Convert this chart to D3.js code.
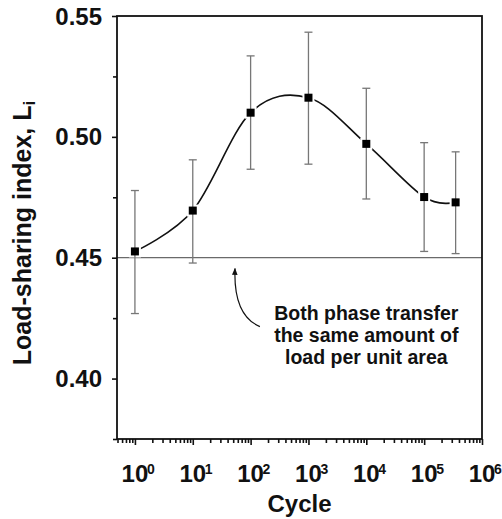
<!DOCTYPE html>
<html>
<head>
<meta charset="utf-8">
<script src="https://cdn.jsdelivr.net/npm/d3@7"></script>
<style>
  html, body { margin: 0; padding: 0; background: #fff; }
  svg { display: block; font-family: "Liberation Sans", Arial, Helvetica, sans-serif; }
</style>
</head>
<body>
<svg id="chart" width="502" height="519"></svg>
<script>
// ---- data ----
const cycles      = [1, 10, 100, 1000, 10000, 100000, 350000];
const loadIndex   = [0.4526, 0.4695, 0.5100, 0.5162, 0.4971, 0.4751, 0.4729];
const errUpper    = [0.4778, 0.4905, 0.5335, 0.5433, 0.5201, 0.4976, 0.4938];
const errLower    = [0.4269, 0.4478, 0.4866, 0.4887, 0.4743, 0.4526, 0.4517];
const yTickValues = [0.375, 0.40, 0.425, 0.45, 0.475, 0.50, 0.525, 0.55];
const yTickLabels = ["0.40", "0.45", "0.50", "0.55"];
const xDecades    = [0, 1, 2, 3, 4, 5, 6];
const referenceLevel = 0.45;
const annotationLines = ["Both phase transfer", "the same amount of", "load per unit area"];
const xTitle = "Cycle";
const yTitle = "Load-sharing index, L";
const yTitleSub = "i";

// ---- layout ----
const plot = { left: 117, right: 482, top: 16, bottom: 439 };
const svg = d3.select("#chart");

const x = d3.scaleLog().domain([0.49, 1e6]).range([plot.left, plot.right]);
const y = d3.scaleLinear().domain([0.375, 0.55]).range([plot.bottom, plot.top]);

// reference horizontal line at 0.45
svg.append("line")
  .attr("x1", plot.left).attr("x2", plot.right)
  .attr("y1", y(referenceLevel)).attr("y2", y(referenceLevel))
  .attr("stroke", "#6a6a6a").attr("stroke-width", 1.2);

// x minor/major ticks
const xMinor = [];
for (let e = -1; e <= 5; e++) for (let k = 2; k <= 9; k++) {
  const v = k * Math.pow(10, e);
  if (v >= 0.49 && v <= 1e6) xMinor.push(v);
}
const xAxisMinor = d3.axisBottom(x).tickValues(xMinor).tickSize(4).tickFormat("");
const xAxisMajor = d3.axisBottom(x).tickValues(xDecades.map(d => Math.pow(10, d))).tickSize(6).tickFormat("");
[xAxisMinor, xAxisMajor].forEach(ax => {
  const g = svg.append("g").attr("transform", `translate(0,${plot.bottom})`).call(ax);
  g.select(".domain").remove();
  g.selectAll("line").attr("stroke", "#111").attr("stroke-width", 1.6);
});

// y ticks
const yMajorVals = yTickValues.filter(v => yTickLabels.includes(v.toFixed(2)));
const yMinorVals = yTickValues.filter(v => !yTickLabels.includes(v.toFixed(2)));
const yAxisMinor = d3.axisLeft(y).tickValues(yMinorVals).tickSize(4).tickFormat("");
const yAxisMajor = d3.axisLeft(y).tickValues(yMajorVals).tickSize(5).tickFormat("");
[yAxisMinor, yAxisMajor].forEach(ax => {
  const g = svg.append("g").attr("transform", `translate(${plot.left},0)`).call(ax);
  g.select(".domain").remove();
  g.selectAll("line").attr("stroke", "#111").attr("stroke-width", 1.6);
});

// frame
svg.append("rect")
  .attr("x", plot.left).attr("y", plot.top)
  .attr("width", plot.right - plot.left).attr("height", plot.bottom - plot.top)
  .attr("fill", "none").attr("stroke", "#111").attr("stroke-width", 1.8);

// y tick labels
svg.append("g").selectAll("text").data(yMajorVals).join("text")
  .attr("x", plot.left - 15)
  .attr("y", d => y(d))
  .attr("dy", "0.36em")
  .attr("text-anchor", "end")
  .attr("font-size", 24).attr("font-weight", "bold").attr("fill", "#111")
  .text(d => d.toFixed(2));

// x tick labels 10^n
const xl = svg.append("g");
xDecades.forEach(n => {
  const cx = x(Math.pow(10, n));
  xl.append("text")
    .attr("x", cx).attr("y", plot.bottom + 43)
    .attr("text-anchor", "middle")
    .attr("font-size", 24).attr("font-weight", "bold").attr("fill", "#111")
    .text("10");
  xl.append("text")
    .attr("x", cx + 12).attr("y", plot.bottom + 35)
    .attr("text-anchor", "start")
    .attr("font-size", 14).attr("font-weight", "bold").attr("fill", "#111")
    .text(String(n));
});

// axis titles
svg.append("text")
  .attr("x", (plot.left + plot.right) / 2).attr("y", plot.bottom + 73)
  .attr("text-anchor", "middle")
  .attr("font-size", 24).attr("font-weight", "bold").attr("fill", "#111")
  .text(xTitle);

const yt = svg.append("text")
  .attr("transform", `translate(31,233) rotate(-90)`)
  .attr("text-anchor", "middle")
  .attr("font-size", 25).attr("font-weight", "bold").attr("fill", "#111");
yt.append("tspan").text(yTitle);
yt.append("tspan").attr("font-size", 17).attr("dy", 4).text(yTitleSub);

// data
const pts = cycles.map((c, i) => ({ c, v: loadIndex[i], hi: errUpper[i], lo: errLower[i] }));

// fitted curve
svg.append("path")
  .datum(pts)
  .attr("d", d3.line().x(d => x(d.c)).y(d => y(d.v)).curve(d3.curveCatmullRom.alpha(0)))
  .attr("fill", "none").attr("stroke", "#111").attr("stroke-width", 1.6);

// white halos around markers (gap in curve)
const ms = 8;
svg.append("g").selectAll("rect").data(pts).join("rect")
  .attr("x", d => x(d.c) - ms / 2 - 2).attr("y", d => y(d.v) - ms / 2 - 2)
  .attr("width", ms + 4).attr("height", ms + 4)
  .attr("fill", "#fff");

// error bars
const eb = svg.append("g").attr("stroke", "#777").attr("stroke-width", 1.3);
eb.selectAll("line.v").data(pts).join("line").attr("class", "v")
  .attr("x1", d => x(d.c)).attr("x2", d => x(d.c))
  .attr("y1", d => y(d.hi)).attr("y2", d => y(d.lo));
eb.selectAll("line.t").data(pts).join("line").attr("class", "t")
  .attr("x1", d => x(d.c) - 4).attr("x2", d => x(d.c) + 4)
  .attr("y1", d => y(d.hi)).attr("y2", d => y(d.hi));
eb.selectAll("line.b").data(pts).join("line").attr("class", "b")
  .attr("x1", d => x(d.c) - 4).attr("x2", d => x(d.c) + 4)
  .attr("y1", d => y(d.lo)).attr("y2", d => y(d.lo));

// markers
svg.append("g").selectAll("rect").data(pts).join("rect")
  .attr("x", d => x(d.c) - ms / 2).attr("y", d => y(d.v) - ms / 2)
  .attr("width", ms).attr("height", ms)
  .attr("fill", "#000");

// annotation arrow (in data coordinates)
const arrowStart = { c: Math.pow(10, 2.16), v: 0.4215 };
const arrowCtrl  = { c: Math.pow(10, 1.70), v: 0.4262 };
const arrowTip   = { c: Math.pow(10, 1.73), v: 0.4455 };
svg.append("defs").append("marker")
  .attr("id", "ah").attr("viewBox", "0 0 10 10").attr("refX", 9).attr("refY", 5)
  .attr("markerWidth", 7).attr("markerHeight", 8).attr("orient", "auto")
  .attr("markerUnits", "userSpaceOnUse")
  .append("path").attr("d", "M0,1 L10,5 L0,9 Z").attr("fill", "#111");
svg.append("path")
  .attr("d", `M${x(arrowStart.c)},${y(arrowStart.v)} Q${x(arrowCtrl.c)},${y(arrowCtrl.v)} ${x(arrowTip.c)},${y(arrowTip.v)}`)
  .attr("fill", "none").attr("stroke", "#111").attr("stroke-width", 1.2)
  .attr("marker-end", "url(#ah)");

// annotation text
const annX = x(1e4);
const annY0 = y(0.4244);
svg.append("g").selectAll("text").data(annotationLines).join("text")
  .attr("x", annX).attr("y", (d, i) => annY0 + i * 22)
  .attr("text-anchor", "middle")
  .attr("font-size", 19.5).attr("font-weight", "bold").attr("fill", "#111")
  .text(d => d);
</script>
</body>
</html>
